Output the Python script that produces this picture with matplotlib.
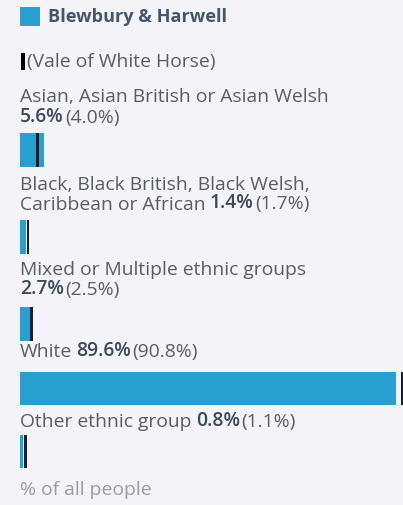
import matplotlib
matplotlib.use("Agg")
import matplotlib.pyplot as plt
from matplotlib.patches import Rectangle

# ethnic group shares, area vs. district
area_name = "Blewbury & Harwell"
district_name = "(Vale of White Horse)"
groups = [
    "Asian, Asian British or Asian Welsh",
    "Black, Black British, Black Welsh,\nCaribbean or African",
    "Mixed or Multiple ethnic groups",
    "White",
    "Other ethnic group",
]
area_pct = [5.6, 1.4, 2.7, 89.6, 0.8]
district_pct = [4.0, 1.7, 2.5, 90.8, 1.1]
footer = "% of all people"

BG = "#f3f3f8"
BLUE = "#27a0d0"
MARK = "#1b1f2a"
LABEL = "#5a5d63"
VALUE = "#3b4a5e"

W, H, DPI = 403, 505, 100
plt.rcParams["font.family"] = ["Open Sans", "DejaVu Sans"]
FS = 13.9

fig = plt.figure(figsize=(W / DPI, H / DPI), dpi=DPI, facecolor=BG)
# x in percent, y in pixel rows from the top
left = 20
ax = fig.add_axes([left / W, 0, (W - left) / W, 1])
ax.set_facecolor(BG)
ax.set_xlim(0, (W - left) / 4.2)
ax.set_ylim(H, 0)
ax.axis("off")
px = (W - left) / 4.2 / (W - left)  # data units per pixel

# legend
ax.add_patch(Rectangle((0, 7), 20 * px, 19, color=BLUE, lw=0))
ax.text(28 * px, 16.5, area_name, fontsize=FS - 0.8, fontweight="bold",
        color="#45566b", va="center")
ax.add_patch(Rectangle((1 * px, 53), 4 * px, 17, color="black", lw=0))
ax.text(7 * px, 61.5, district_name, fontsize=FS, color=LABEL, va="center")

# (label line y, value on same line?, bar top, bar bottom)
rows = [
    (97, False, 133, 167),
    (185, True, 220, 254),
    (270, False, 307, 341),
    (352, True, 372, 405),
    (422, True, 435, 468),
]


def district_text(anchor, d):
    ax.annotate(f"({d:.1f}%)", xy=(1, 0), xycoords=anchor, xytext=(1, 0),
                textcoords="offset points", fontsize=FS, color=LABEL,
                va="bottom", ha="left")


for name, a, d, (ty, inline, b0, b1) in zip(groups, area_pct, district_pct, rows):
    lines = name.split("\n")
    for i, ln in enumerate(lines):
        t = ax.text(0, ty + 19.5 * i, ln, fontsize=FS, color=LABEL, va="center")
    if inline:
        v = ax.annotate(f"{a:.1f}%", xy=(1, 0), xycoords=t, xytext=(3, 0),
                        textcoords="offset points", fontsize=FS,
                        fontweight="semibold", color=VALUE, va="bottom",
                        ha="left")
    else:
        v = ax.text(0, ty + 19.5 * len(lines), f"{a:.1f}%", fontsize=FS,
                    fontweight="semibold", color=VALUE, va="center")
    district_text(v, d)
    ax.barh((b0 + b1) / 2, a, height=b1 - b0, left=0, color=BLUE, lw=0)
    ax.barh((b0 + b1) / 2, 2.6 * px, height=b1 - b0, left=d - 0.6 * px,
            color=MARK, lw=0)

ax.text(0, 490, footer, fontsize=FS, color="#9a9ca2", va="center")

fig.savefig("out.png", dpi=DPI, facecolor=BG)
